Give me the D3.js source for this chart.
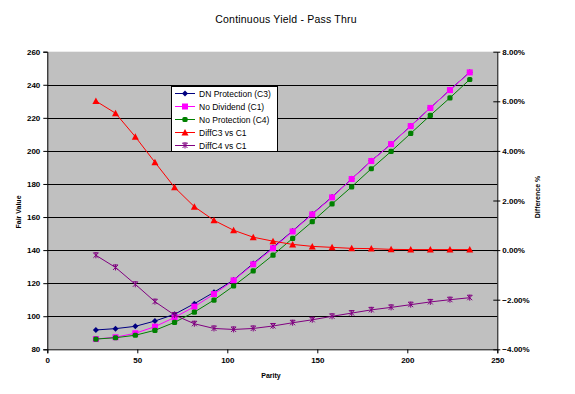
<!DOCTYPE html>
<html><head><meta charset="utf-8">
<script src="https://cdn.jsdelivr.net/npm/d3@7"></script>
<style>
html,body{margin:0;padding:0;background:#fff;}
svg{display:block;}
text{font-family:"Liberation Sans",Arial,sans-serif;}
</style></head>
<body><svg id="c" width="575" height="394"></svg>
<script>
const parity = [27.0, 37.9, 48.9, 59.8, 70.7, 81.7, 92.6, 103.5, 114.4, 125.4, 136.3, 147.2, 158.2, 169.1, 180.0, 191.0, 201.9, 212.8, 223.7, 234.7];
const dnProtection = [91.7, 92.5, 93.9, 97.1, 101.2, 107.6, 114.5, 121.9, 131.9, 141.6, 151.6, 161.9, 172.1, 183.1, 194.0, 204.2, 215.1, 226.0, 236.9, 247.6];
const noDividend = [86.2, 87.3, 89.7, 93.7, 99.3, 105.8, 113.4, 121.7, 131.4, 141.1, 151.3, 161.6, 171.9, 183.0, 193.9, 204.1, 215.0, 226.0, 236.8, 247.5];
const noProtection = [86.2, 87.0, 88.5, 91.5, 96.3, 102.5, 109.8, 118.3, 127.4, 137.0, 147.1, 157.2, 167.9, 178.3, 189.2, 199.7, 210.6, 221.5, 232.1, 243.2];
const diffC3vsC1 = [6.01, 5.52, 4.57, 3.54, 2.53, 1.75, 1.20, 0.80, 0.52, 0.36, 0.23, 0.15, 0.11, 0.07, 0.06, 0.03, 0.02, 0.02, 0.02, 0.02];
const diffC4vsC1 = [-0.21, -0.70, -1.38, -2.08, -2.62, -2.97, -3.16, -3.20, -3.16, -3.06, -2.93, -2.81, -2.67, -2.54, -2.41, -2.31, -2.20, -2.09, -2.00, -1.92];
const xTicks = [0, 50, 100, 150, 200, 250];
const yLeftTicks = [80, 100, 120, 140, 160, 180, 200, 220, 240, 260];
const yRightTicks = [-4, -2, 0, 2, 4, 6, 8];
const seriesNames = ["DN Protection (C3)", "No Dividend (C1)", "No Protection (C4)", "DiffC3 vs C1", "DiffC4 vs C1"];

const svg = d3.select("#c");
const L = 47.3, R = 497.3, T = 51.7, B = 349.3;
const x = d3.scaleLinear().domain([0, 250]).range([L, R]);
const yL = d3.scaleLinear().domain([80, 260]).range([B, T]);
const yR = d3.scaleLinear().domain([-4, 8]).range([B, T]);

svg.append("rect").attr("x", L).attr("y", T).attr("width", R - L).attr("height", B - T).attr("fill", "#c0c0c0");

svg.append("g").selectAll("line").data(yLeftTicks.filter(d => d > 80 && d < 260)).join("line")
  .attr("x1", L).attr("x2", R).attr("y1", d => Math.round(yL(d)) + 0.5).attr("y2", d => Math.round(yL(d)) + 0.5)
  .attr("stroke", "#000").attr("stroke-width", 1);

const tickFont = g => g.selectAll("text").attr("font-size", "8px").attr("font-weight", "bold").attr("fill", "#000");

const gx = svg.append("g").attr("transform", `translate(0,${B})`)
  .call(d3.axisBottom(x).tickValues(xTicks).tickSize(4).tickPadding(4).tickFormat(d3.format("d")));
gx.select(".domain").attr("stroke", "#000");
tickFont(gx);

const gl = svg.append("g").attr("transform", `translate(${L},0)`)
  .call(d3.axisLeft(yL).tickValues(yLeftTicks).tickSize(4).tickPadding(3).tickFormat(d3.format("d")));
gl.select(".domain").attr("stroke", "#000");
tickFont(gl);

const gr = svg.append("g").attr("transform", `translate(${R},0)`)
  .call(d3.axisRight(yR).tickValues(yRightTicks).tickSizeInner(-4).tickSizeOuter(0).tickPadding(5).tickFormat(d => d3.format(".2f")(d) + "%"));
gr.select(".domain").attr("stroke", "#000");
gr.selectAll(".tick line").attr("x1", -4).attr("x2", 3);
gr.selectAll("text").attr("x", 5);
tickFont(gr);

svg.append("text").attr("x", 286).attr("y", 23).attr("text-anchor", "middle").attr("font-size", "10.5px").attr("letter-spacing", "0.2px").text("Continuous Yield - Pass Thru");
svg.append("text").attr("x", 271).attr("y", 378).attr("text-anchor", "middle").attr("font-size", "7px").attr("font-weight", "bold").text("Parity");
svg.append("text").attr("transform", "translate(21,212) rotate(-90)").attr("text-anchor", "middle").attr("font-size", "7px").attr("font-weight", "bold").text("Fair Value");
svg.append("text").attr("transform", "translate(540,197) rotate(-90)").attr("text-anchor", "middle").attr("font-size", "7px").attr("font-weight", "bold").text("Difference %");

function marker(g, type, color) {
  if (type === "diamond") g.append("path").attr("d", "M0,-3L3,0L0,3L-3,0Z").attr("fill", color);
  else if (type === "square") g.append("rect").attr("x", -3).attr("y", -3).attr("width", 6).attr("height", 6).attr("fill", color);
  else if (type === "circle") g.append("rect").attr("x", -2.6).attr("y", -2.6).attr("width", 5.2).attr("height", 5.2).attr("rx", 1.5).attr("fill", color);
  else if (type === "triangle") g.append("path").attr("d", "M0,-3.5L3.5,3L-3.5,3Z").attr("fill", color);
  else if (type === "star") g.append("path").attr("d", "M-2.5,-2.5L2.5,2.5M-2.5,2.5L2.5,-2.5M0,-3L0,3M-2.5,-2.5L2.5,-2.5").attr("stroke", color).attr("stroke-width", 1).attr("fill", "none");
}

const series = [
  {name: seriesNames[0], vals: dnProtection, y: yL, color: "#000080", m: "diamond"},
  {name: seriesNames[1], vals: noDividend, y: yL, color: "#ff00ff", m: "square"},
  {name: seriesNames[2], vals: noProtection, y: yL, color: "#008000", m: "circle"},
  {name: seriesNames[3], vals: diffC3vsC1, y: yR, color: "#ff0000", m: "triangle"},
  {name: seriesNames[4], vals: diffC4vsC1, y: yR, color: "#800080", m: "star"}
];

series.forEach(s => {
  const pts = parity.map((p, i) => [p, s.vals[i]]);
  const line = d3.line().x(d => x(d[0])).y(d => s.y(d[1]));
  svg.append("path").datum(pts).attr("d", line).attr("fill", "none").attr("stroke", s.color).attr("stroke-width", 1);
  svg.append("g").selectAll("g").data(pts).join("g")
    .attr("transform", d => `translate(${x(d[0])},${s.y(d[1])})`)
    .each(function() { marker(d3.select(this), s.m, s.color); });
});

const lg = svg.append("g");
lg.append("rect").attr("x", 171.5).attr("y", 86.5).attr("width", 106).attr("height", 65).attr("fill", "#fff").attr("stroke", "#000").attr("stroke-width", 1);
series.forEach((s, i) => {
  const yy = 93.5 + i * 13;
  lg.append("line").attr("x1", 175).attr("x2", 195).attr("y1", yy).attr("y2", yy).attr("stroke", s.color).attr("stroke-width", 1);
  const mg = lg.append("g").attr("transform", `translate(185,${yy})`);
  marker(mg, s.m, s.color);
  lg.append("text").attr("x", 199).attr("y", yy + 3).attr("font-size", "8.5px").attr("fill", "#000").text(s.name);
});
</script></body></html>
